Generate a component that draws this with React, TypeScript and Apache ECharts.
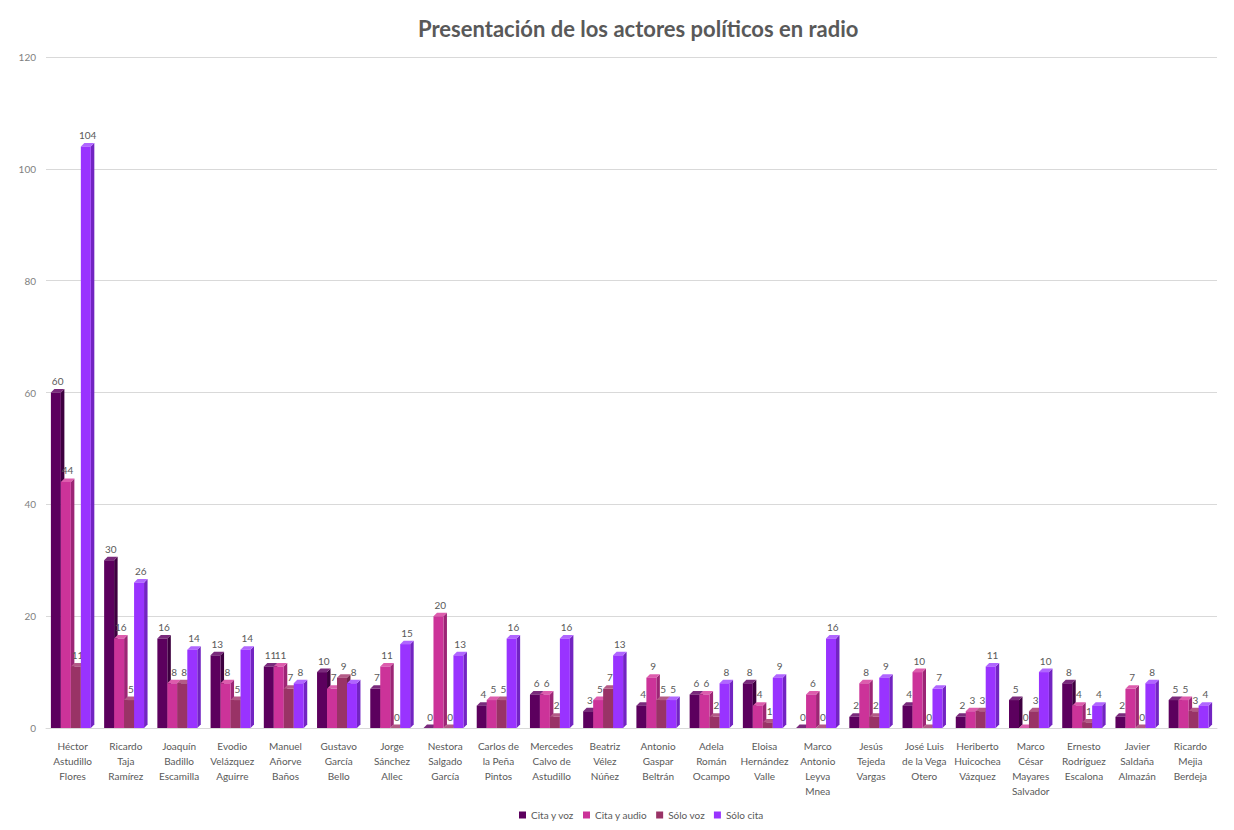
import React, { useEffect, useRef } from "react";
import * as echarts from "echarts";

const title = "Presentación de los actores políticos en radio";
const categories = [
  "Héctor\nAstudillo\nFlores",
  "Ricardo\nTaja\nRamírez",
  "Joaquín\nBadillo\nEscamilla",
  "Evodio\nVelázquez\nAguirre",
  "Manuel\nAñorve\nBaños",
  "Gustavo\nGarcía\nBello",
  "Jorge\nSánchez\nAllec",
  "Nestora\nSalgado\nGarcía",
  "Carlos de\nla Peña\nPintos",
  "Mercedes\nCalvo de\nAstudillo",
  "Beatriz\nVélez\nNúñez",
  "Antonio\nGaspar\nBeltrán",
  "Adela\nRomán\nOcampo",
  "Eloisa\nHernández\nValle",
  "Marco\nAntonio\nLeyva\nMnea",
  "Jesús\nTejeda\nVargas",
  "José Luis\nde la Vega\nOtero",
  "Heriberto\nHuicochea\nVázquez",
  "Marco\nCésar\nMayares\nSalvador",
  "Ernesto\nRodríguez\nEscalona",
  "Javier\nSaldaña\nAlmazán",
  "Ricardo\nMejia\nBerdeja",
];
const seriesNames = ["Cita y voz", "Cita y audio", "Sólo voz", "Sólo cita"];
const citaYVoz = [60, 30, 16, 13, 11, 10, 7, 0, 4, 6, 3, 4, 6, 8, 0, 2, 4, 2, 5, 8, 2, 5];
const citaYAudio = [44, 16, 8, 8, 11, 7, 11, 20, 5, 6, 5, 9, 6, 4, 6, 8, 10, 3, 0, 4, 7, 5];
const soloVoz = [11, 5, 8, 5, 7, 9, 0, 0, 5, 2, 7, 5, 2, 1, 0, 2, 0, 3, 3, 1, 0, 3];
const soloCita = [104, 26, 14, 14, 8, 8, 15, 13, 16, 16, 13, 5, 8, 9, 16, 9, 7, 11, 10, 4, 8, 4];
const yTicks = [0, 20, 40, 60, 80, 100, 120];
const frontColors = ["#5c005e", "#cc3399", "#993366", "#9933ff"];
const sideColors = ["#3e0040", "#9c2575", "#72264c", "#7224c2"];
const topColors = ["#7a2a7c", "#dd5cad", "#b35a86", "#b066ff"];

const FONT = "Lato, 'Open Sans', sans-serif";

export default function App() {
  const ref = useRef<HTMLDivElement>(null);
  useEffect(() => {
    document.body.style.margin = "0";
    const chart = echarts.init(ref.current!, undefined, { renderer: "svg" });
    const values = [citaYVoz, citaYAudio, soloVoz, soloCita];
    const depth = 3.5;
    chart.setOption({
      animation: false,
      backgroundColor: "#ffffff",
      textStyle: { fontFamily: FONT },
      title: {
        text: title,
        left: 413,
        top: 12,
        textStyle: { fontSize: 22, fontWeight: "bold", color: "#595959", fontFamily: FONT },
      },
      legend: {
        data: seriesNames,
        bottom: 5,
        left: 514,
        itemWidth: 7,
        itemHeight: 7,
        itemGap: 9,
        icon: "rect",
        textStyle: { fontSize: 10, color: "#595959", fontFamily: FONT },
      },
      grid: { left: 46, right: 17, top: 57, bottom: 102, containLabel: false },
      xAxis: {
        type: "category",
        data: categories,
        axisLine: { show: true, lineStyle: { color: "#d9d9d9" } },
        axisTick: { show: false },
        axisLabel: {
          interval: 0,
          fontSize: 10,
          color: "#595959",
          lineHeight: 15,
          margin: 10,
          fontFamily: FONT,
        },
      },
      yAxis: {
        type: "value",
        min: yTicks[0],
        max: yTicks[yTicks.length - 1],
        interval: 20,
        axisLine: { show: false },
        axisTick: { show: false },
        splitLine: { lineStyle: { color: "#d9d9d9", width: 1 } },
        axisLabel: { fontSize: 10, color: "#7f7f7f", margin: 10, fontFamily: FONT },
      },
      series: seriesNames.map((name, i) => ({
        name,
        type: "custom",
        itemStyle: { color: frontColors[i] },
        encode: { x: 0, y: 1 },
        data: values[i].map((v, k) => [k, v]),
        renderItem: (params: any, api: any) => {
          const idx = api.value(0);
          const val = api.value(1);
          const base = api.coord([idx, 0]);
          const top = api.coord([idx, val]);
          const band = api.size([1, 0])[0];
          const groupW = band * 0.75;
          const slot = groupW / 4;
          const left = base[0] - (groupW + depth) / 2;
          const x0 = left + i * slot;
          const x1 = x0 + slot;
          const yT = top[1];
          const yB = base[1];
          return {
            type: "group",
            children: [
              {
                type: "polygon",
                shape: { points: [[x1, yT], [x1 + depth, yT - depth], [x1 + depth, yB - depth], [x1, yB]] },
                style: { fill: sideColors[i] },
              },
              {
                type: "polygon",
                shape: { points: [[x0, yT], [x1, yT], [x1 + depth, yT - depth], [x0 + depth, yT - depth]] },
                style: { fill: topColors[i] },
              },
              {
                type: "rect",
                shape: { x: x0, y: yT, width: slot, height: yB - yT },
                style: { fill: frontColors[i] },
              },
              {
                type: "text",
                style: {
                  text: String(val),
                  x: x0 + slot / 2 + depth / 2,
                  y: yT - depth - 3,
                  align: "center",
                  verticalAlign: "bottom",
                  fontSize: 10,
                  fill: "#595959",
                  fontFamily: FONT,
                },
              },
            ],
          };
        },
      })),
    });
    return () => chart.dispose();
  }, []);
  return <div ref={ref} style={{ width: 1234, height: 830 }} />;
}
